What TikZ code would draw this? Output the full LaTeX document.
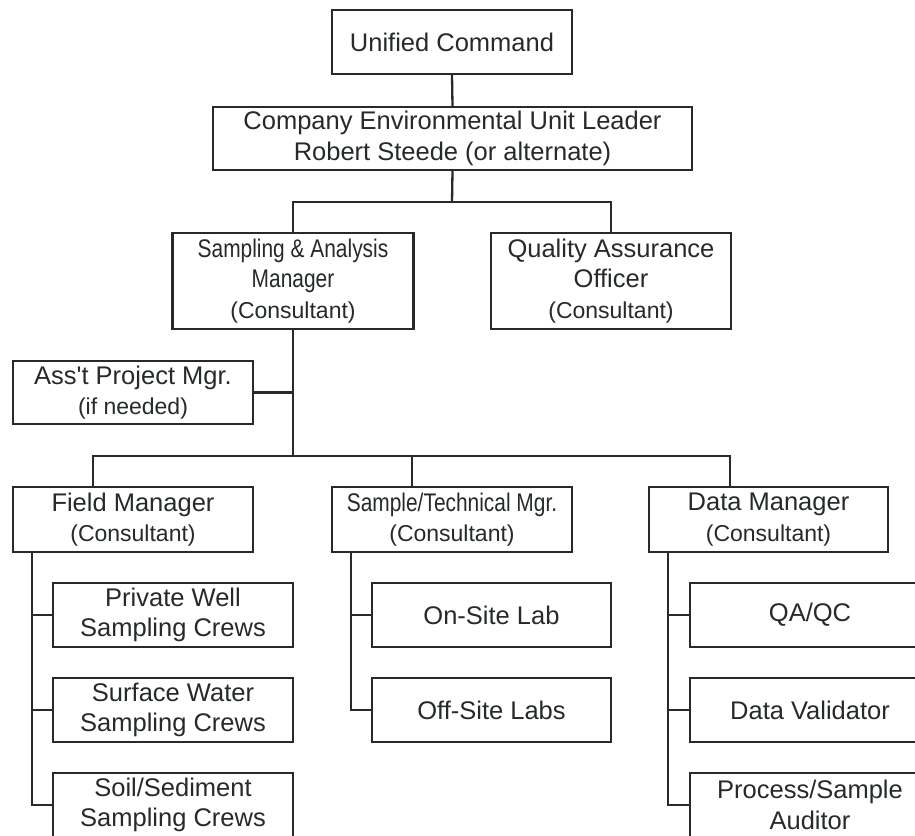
\documentclass[tikz,border=0pt]{standalone}
\usepackage{fontspec}
\setmainfont{Liberation Sans}
\newfontfamily\narrowfont[FakeStretch=0.82]{Liberation Sans}
\newfontfamily\plainfont[Ligatures=ResetAll]{Liberation Sans}
\definecolor{ink}{RGB}{38,42,42}
\newcommand\orgbig{\fontsize{25.5}{30.5}\selectfont}
\newcommand\orgsmall{\fontsize{23}{30.5}\selectfont}
\begin{document}
\begin{tikzpicture}[x=1pt,y=-1pt,
  box/.style={draw=ink, line width=2.3pt, inner sep=0pt, align=center, text=ink,
    font=\orgbig, minimum width=240pt, minimum height=64pt},
  conn/.style={draw=ink, line width=2.3pt}]
\useasboundingbox (0,0) rectangle (915,835);
\fill[white] (0,0) rectangle (915,835);
\clip (0,0) rectangle (915,835);

% top levels
\node[box] (UC) at (452,42) {Unified Command};
\node[box, minimum width=479pt, minimum height=63pt] (CEUL) at (452.5,138.5)
  {Company Environmental Unit Leader\\Robert Steede (or alternate)};
\node[box, minimum width=241pt, minimum height=96pt] (SAM) at (293,281)
  {{\narrowfont Sampling \& Analysis}\\{\narrowfont Manager}\\{\orgsmall (Consultant)}};
\node[box, minimum height=96pt] (QA) at (611,281)
  {Quality Assurance\\Officer\\{\orgsmall (Consultant)}};
\node[box, minimum height=63pt] (AP) at (133,392.5)
  {{\plainfont Ass't Project Mgr.}\\{\orgsmall (if needed)}};

% managers
\node[box, minimum height=65pt] (FM) at (133,519.5)
  {Field Manager\\{\orgsmall (Consultant)}};
\node[box, minimum height=65pt] (ST) at (452,519.5)
  {{\narrowfont Sample/Technical Mgr.}\\{\orgsmall (Consultant)}};
\node[box, minimum width=239pt, minimum height=65pt] (DM) at (768.5,519.5)
  {Data Manager\\{\orgsmall (Consultant)}};

% field children
\node[box] (PW) at (173,615) {Private Well\\Sampling Crews};
\node[box] (SW) at (173,710) {Surface Water\\Sampling Crews};
\node[box] (SS) at (173,805) {Soil/Sediment\\Sampling Crews};
% lab children
\node[box, minimum width=239pt] (ON) at (491.5,615) {On-Site Lab};
\node[box, minimum width=239pt] (OFF) at (491.5,710) {Off-Site Labs};
% data children
\node[box] (QC) at (810,615) {QA/QC};
\node[box] (DV) at (810,710) {Data Validator};
\node[box] (PS) at (810,805) {Process/Sample\\Auditor};

% connectors
\coordinate (b1) at (452,202);
\coordinate (b2) at (293,456);
\draw[conn] (UC.south) -- (CEUL.north);
\draw[conn] (CEUL.south) -- (b1);
\draw[conn] (SAM.north) |- (b1) -| (QA.north);
\draw[conn] (SAM.south) -- (b2);
\draw[conn] (AP.east) -- (AP.east -| SAM.south);
\draw[conn] ([xshift=-40pt]FM.north) |- (b2) -| ([xshift=-38.5pt]DM.north);
\draw[conn] ([xshift=-40pt]ST.north) -- ([xshift=-40pt]ST.north |- b2);

\coordinate (fv) at ([xshift=20pt]FM.south west);
\coordinate (sv) at ([xshift=20pt]ST.south west);
\coordinate (dv) at ([xshift=20pt]DM.south west);
\draw[conn] (fv) |- (SS.west);
\draw[conn] (PW.west) -- (PW.west -| fv);
\draw[conn] (SW.west) -- (SW.west -| fv);
\draw[conn] (sv) |- (OFF.west);
\draw[conn] (ON.west) -- (ON.west -| sv);
\draw[conn] (dv) |- (PS.west);
\draw[conn] (QC.west) -- (QC.west -| dv);
\draw[conn] (DV.west) -- (DV.west -| dv);
\end{tikzpicture}
\end{document}
